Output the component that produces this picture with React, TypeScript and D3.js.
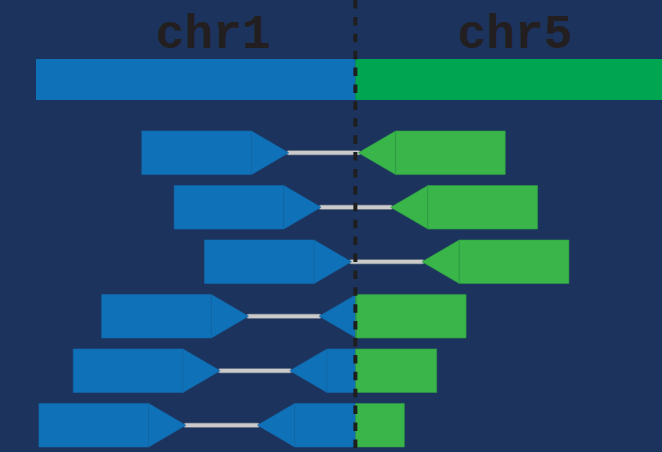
import React from "react";
import * as d3 from "d3";

// genomic offsets (bp) relative to the breakpoint, which sits at 0
const chromosomes = ["chr1", "chr5"];
const chromStart = [-326, 0];
const chromEnd = [0, 313];
const labelCenter = [-145, 163];

// one row per read pair: start of the forward read, end (tip) of the reverse read
const readStarts = [-218, -185, -154, -259, -288, -323];
const fragmentEnds = [3, 36, 68, -37, -67, -100];
const READ_LEN = 150;
const HEAD_LEN = 38;

const W = 662;
const H = 452;

const BG = "#1c335e";
const BLUE = "#0f72b9";
const GREEN_BAR = "#00a551";
const GREEN = "#39b54a";

const App: React.FC = () => {
  const x = d3.scaleLinear().domain([-326, 313]).range([36, 662]);
  const y = d3
    .scaleBand<number>()
    .domain(d3.range(readStarts.length))
    .range([131, 447])
    .paddingInner(0.2);
  const bx = x(0);
  const line = d3.line();

  const fwd = (s: number, top: number, h: number) => {
    const body: [number, number][] = [
      [x(s), top],
      [x(s + READ_LEN - HEAD_LEN), top],
      [x(s + READ_LEN - HEAD_LEN), top + h],
      [x(s), top + h],
    ];
    const head: [number, number][] = [
      [x(s + READ_LEN - HEAD_LEN), top],
      [x(s + READ_LEN), top + h / 2],
      [x(s + READ_LEN - HEAD_LEN), top + h],
    ];
    return [line(body) + "Z", line(head) + "Z"];
  };
  const rev = (e: number, top: number, h: number) => {
    const head: [number, number][] = [
      [x(e + HEAD_LEN), top],
      [x(e), top + h / 2],
      [x(e + HEAD_LEN), top + h],
    ];
    const body: [number, number][] = [
      [x(e + HEAD_LEN), top],
      [x(e + READ_LEN), top],
      [x(e + READ_LEN), top + h],
      [x(e + HEAD_LEN), top + h],
    ];
    return [line(head) + "Z", line(body) + "Z"];
  };

  return (
    <div style={{ position: "fixed", left: 0, top: 0 }}>
      <svg width={W} height={H} style={{ display: "block" }}>
        <defs>
          <clipPath id="leftSide">
            <rect x={0} y={0} width={bx} height={H} />
          </clipPath>
          <clipPath id="rightSide">
            <rect x={bx} y={0} width={W - bx} height={H} />
          </clipPath>
        </defs>
        <rect width={W} height={H} fill={BG} />

        {chromosomes.map((c, i) => (
          <g key={c}>
            <rect
              x={x(chromStart[i])}
              y={59}
              width={x(chromEnd[i]) - x(chromStart[i])}
              height={41}
              fill={i === 0 ? BLUE : GREEN_BAR}
            />
            <text
              x={x(labelCenter[i])}
              y={48}
              textAnchor="middle"
              fontFamily="'Liberation Mono', 'Courier New', monospace"
              fontWeight="bold"
              fontSize={48}
              fill="#231f20"
            >
              {c}
            </text>
          </g>
        ))}

        {readStarts.map((s, i) => {
          const top = y(i) ?? 0;
          const h = y.bandwidth();
          const e = fragmentEnds[i];
          const f = fwd(s, top, h);
          const r = rev(e, top, h);
          return (
            <g key={i}>
              <line
                x1={x(s + READ_LEN)}
                x2={x(e)}
                y1={top + h / 2}
                y2={top + h / 2}
                stroke="#7d8593"
                strokeWidth={5}
                strokeLinecap="round"
              />
              <line
                x1={x(s + READ_LEN)}
                x2={x(e)}
                y1={top + h / 2}
                y2={top + h / 2}
                stroke="#cbcbcb"
                strokeWidth={3.5}
                strokeLinecap="round"
              />
              {f.map((d, k) => (
                <path key={"f" + k} d={d} fill={BLUE} stroke="#1466a6" strokeWidth={0.6} />
              ))}
              <g clipPath="url(#leftSide)">
                {r.map((d, k) => (
                  <path key={"rb" + k} d={d} fill={BLUE} stroke="#1466a6" strokeWidth={0.6} />
                ))}
              </g>
              <g clipPath="url(#rightSide)">
                {r.map((d, k) => (
                  <path key={"rg" + k} d={d} fill={GREEN} stroke="#2f9a45" strokeWidth={0.6} />
                ))}
              </g>
            </g>
          );
        })}

        <line
          x1={bx}
          x2={bx}
          y1={0}
          y2={H}
          stroke="#1e1e1e"
          strokeWidth={4}
          strokeDasharray="8.5 8.4"
        />
      </svg>
    </div>
  );
};

export default App;
